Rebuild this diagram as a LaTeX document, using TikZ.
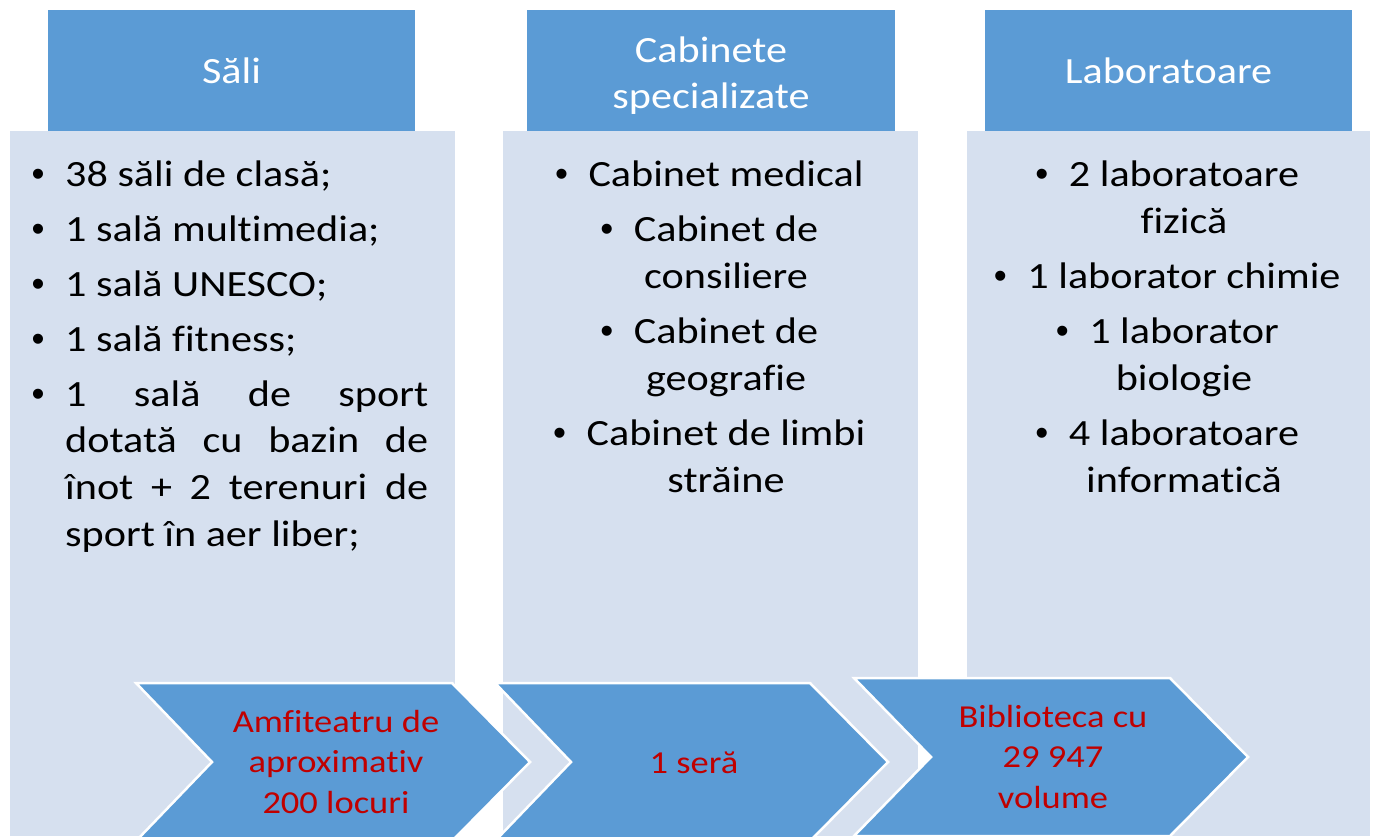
\documentclass[tikz,border=0pt]{standalone}
\usepackage{fontspec}
\setmainfont{Carlito}[FakeStretch=1.14,Ligatures=NoCommon]
\newfontfamily\bulfont{Liberation Sans}
\definecolor{hdrblue}{HTML}{5B9BD5}
\definecolor{bodyblue}{HTML}{D6E0EF}
\definecolor{redtext}{HTML}{C00000}
\newcommand\bodyfnt{\fontsize{37}{46.7}\selectfont}
\newcommand\chevfnt{\fontsize{32}{40.5}\selectfont}
\newcommand\mybul{\llap{\makebox[0pt]{\bulfont •}\hspace{27pt}}}
\tikzset{
  hdrbox/.style={fill=hdrblue, draw=none},
  bodybox/.style={fill=bodyblue, draw=none},
  chevron/.style={fill=hdrblue, draw=white, line width=2.5pt, line join=miter},
  hdrtext/.style={font=\bodyfnt, text=white, inner sep=0pt, anchor=base},
  bodytext/.style={font=\bodyfnt, text=black, inner sep=0pt, anchor=base},
  lefttext/.style={font=\bodyfnt, text=black, inner sep=0pt, anchor=base west},
  chevtext/.style={font=\chevfnt, text=redtext, inner sep=0pt, anchor=base},
}
\begin{document}
\begin{tikzpicture}[x=1pt,y=-1pt]
\useasboundingbox (0,0) rectangle (1375,836);
\clip (0,0) rectangle (1375,836);
% columns
\fill[bodybox] (10,131) rectangle (455,836);
\fill[bodybox] (503,131) rectangle (918,836);
\fill[bodybox] (967,131) rectangle (1370,836);
\fill[hdrbox] (48,10) rectangle (415,131);
\fill[hdrbox] (527,10) rectangle (895,131);
\fill[hdrbox] (985,10) rectangle (1352,131);
% headers
\node[hdrtext] (h1) at (231.5,83) {Săli};
\node[hdrtext] (h2a) at (711,62) {Cabinete};
\node[hdrtext] (h2b) at (711,108) {specializate};
\node[hdrtext] (h3) at (1168.5,83) {Laboratoare};
% column 1
\node[lefttext] (s1) at (65,186) {\mybul 38 săli de clasă;};
\node[lefttext] (s2) at (65,241) {\mybul 1 sală multimedia;};
\node[lefttext] (s3) at (65,296) {\mybul 1 sală UNESCO;};
\node[lefttext] (s4) at (65,351) {\mybul 1 sală fitness;};
\node[lefttext] (s5a) at (65,406) {\mybul\makebox[363pt][s]{1 sală de sport}};
\node[lefttext] (s5b) at (65,452.7) {\makebox[363pt][s]{dotată cu bazin de}};
\node[lefttext] (s5c) at (65,499.4) {\makebox[363pt][s]{înot + 2 terenuri de}};
\node[lefttext] (s5d) at (65,546) {sport în aer liber;};
% column 2
\node[bodytext] (c1) at (726,186) {\mybul Cabinet medical};
\node[bodytext] (c2a) at (726,241) {\mybul Cabinet de};
\node[bodytext] (c2b) at (726,288) {consiliere};
\node[bodytext] (c3a) at (726,343) {\mybul Cabinet de};
\node[bodytext] (c3b) at (726,390) {geografie};
\node[bodytext] (c4a) at (726,445) {\mybul Cabinet de limbi};
\node[bodytext] (c4b) at (726,492) {străine};
% column 3
\node[bodytext] (l1a) at (1184,186) {\mybul 2 laboratoare};
\node[bodytext] (l1b) at (1184,233) {fizică};
\node[bodytext] (l2) at (1184,288) {\mybul 1 laborator chimie};
\node[bodytext] (l3a) at (1184,343) {\mybul 1 laborator};
\node[bodytext] (l3b) at (1184,390) {biologie};
\node[bodytext] (l4a) at (1184,445) {\mybul 4 laboratoare};
\node[bodytext] (l4b) at (1184,492) {informatică};
% chevrons
\draw[chevron] (136,683) -- (452,683) -- (530,762) -- (452,841) -- (136,841) -- (212,762) -- cycle;
\draw[chevron] (495,683) -- (810,683) -- (888,762) -- (810,841) -- (495,841) -- (571,762) -- cycle;
\draw[chevron] (854,678) -- (1170,678) -- (1248,757) -- (1170,836) -- (854,836) -- (931,757) -- cycle;
% chevron texts
\node[chevtext] (a1) at (336,732) {Amfiteatru de};
\node[chevtext] (a2) at (336,772.5) {aproximativ};
\node[chevtext] (a3) at (336,813) {200 locuri};
\node[chevtext] (b1) at (694,773) {1 seră};
\node[chevtext] (d1) at (1053,727) {Biblioteca cu};
\node[chevtext] (d2) at (1053,767.5) {29 947};
\node[chevtext] (d3) at (1053,808) {volume};
\end{tikzpicture}
\end{document}
